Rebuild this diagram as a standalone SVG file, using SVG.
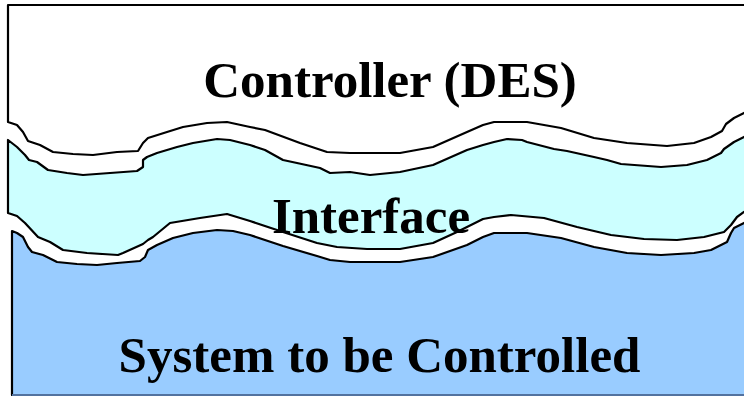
<svg xmlns="http://www.w3.org/2000/svg" width="744" height="396" viewBox="0 0 744 396">
<style>
.edge{fill:none;stroke:#000;stroke-width:2.2;stroke-linejoin:round;stroke-linecap:round}
.lbl{font-family:"Liberation Serif","Times New Roman",serif;font-weight:bold;font-size:51px;fill:#000;text-anchor:middle}
</style>
<rect x="0" y="0" width="744" height="396" fill="#fff"/>
<g id="controller">
<path class="edge" d="M744,5 H8 V122 L17,125 23,132 28,141 40,145 53,152 73,154 93,155 117,152 138,151 143,143 148,138 167,132 183,127 207,123 227,122 250,127 265,130 300,143 327,152 350,153 400,153 433,147 467,132 483,125 494,122 527,122 561,128 594,138 627,143 667,146 694,143 711,137 722,131 726,124 734,118 744,113"/>
</g>
<g id="interface">
<path fill="#ccffff" stroke="none" d="M8,140 L17,147 25,155 29,160 37,162 48,170 67,173 83,175 110,173 137,171 143,167 143,160 147,157 157,153 177,147 193,143 217,139 230,140 250,145 265,150 283,160 297,163 320,168 330,173 350,172 370,175 400,172 433,165 467,150 483,145 494,142 507,139 522,140 527,142 554,149 567,151 594,157 607,160 621,164 661,167 687,165 707,160 721,153 724,149 734,142 744,137 L744,212 737,217 731,225 724,232 704,237 677,240 644,239 611,235 577,227 544,218 511,215 494,217 483,219 457,232 433,243 400,249 367,249 337,247 317,243 283,232 250,221 227,214 200,218 170,223 153,237 148,240 143,244 123,253 118,255 87,253 63,250 50,242 38,237 25,223 17,216 8,213 Z"/>
<path class="edge" d="M744,137 L734,142 724,149 721,153 707,160 687,165 661,167 621,164 607,160 594,157 567,151 554,149 527,142 522,140 507,139 494,142 483,145 467,150 433,165 400,172 370,175 350,172 330,173 320,168 297,163 283,160 265,150 250,145 230,140 217,139 193,143 177,147 157,153 147,157 143,160 143,167 137,171 110,173 83,175 67,173 48,170 37,162 29,160 25,155 17,147 8,140 V213 L17,216 25,223 38,237 50,242 63,250 87,253 118,255 123,253 143,244 148,240 153,237 170,223 200,218 227,214 250,221 283,232 317,243 337,247 367,249 400,249 433,243 457,232 483,219 494,217 511,215 544,218 577,227 611,235 644,239 677,240 704,237 724,232 731,225 737,217 744,212"/>
</g>
<g id="system">
<path fill="#99ccff" stroke="none" d="M12,231 L17,233 23,237 28,247 32,252 43,255 57,262 77,264 97,265 117,263 140,261 145,257 148,250 157,245 173,238 193,233 217,230 233,231 250,235 283,246 317,256 330,260 350,262 400,262 433,257 467,245 483,237 494,233 527,233 561,238 594,247 627,253 661,255 694,253 711,250 727,242 731,233 734,228 744,223 V396 H12 Z"/>
<path class="edge" d="M12,395 V231 L17,233 23,237 28,247 32,252 43,255 57,262 77,264 97,265 117,263 140,261 145,257 148,250 157,245 173,238 193,233 217,230 233,231 250,235 283,246 317,256 330,260 350,262 400,262 433,257 467,245 483,237 494,233 527,233 561,238 594,247 627,253 661,255 694,253 711,250 727,242 731,233 734,228 744,223"/>
<line x1="12" y1="395" x2="744" y2="395" stroke="#52729f" stroke-width="2"/>
</g>
<g id="labels">
<text class="lbl" x="390" y="97">Controller (DES)</text>
<text class="lbl" x="371" y="233">Interface</text>
<text class="lbl" x="379.5" y="372">System to be Controlled</text>
</g>
</svg>
